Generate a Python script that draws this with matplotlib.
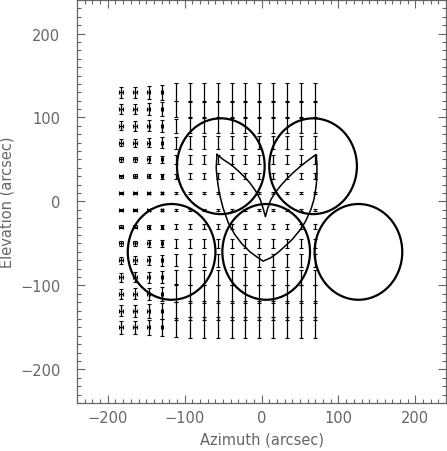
import numpy as np
import matplotlib
matplotlib.use("Agg")
import matplotlib.pyplot as plt
from matplotlib.patches import Circle

# grid of pointing offsets (arcsec)
az_grid = [-183, -165, -147, -129, -111, -93, -75, -57, -39, -21, -3, 15, 33, 51, 69]
el_grid = [130, 110, 90, 70, 50, 30, 10, -10, -30, -50, -70, -90, -110, -130, -150]

# half length of the elevation error bars, one row per elevation (top to bottom)
el_err = [
    [6.6, 6.8, 7.9, 9.1, 10.5] + [11.0] * 10,
    [6.0, 6.2, 7.2, 8.3, 9.5] + [10.0] * 10,
    [5.4, 5.6, 6.5, 7.5, 8.6] + [9.0] * 10,
    [4.5, 4.7, 5.4, 6.2, 7.1] + [7.5] * 10,
    [3.3, 3.4, 4.0, 4.6, 5.2] + [5.5] * 10,
    [2.1, 2.2, 2.5, 2.9, 3.3] + [3.5] * 10,
    [0.9, 0.9, 1.1, 1.2, 1.4] + [1.5] * 10,
    [0.9, 0.9, 1.1, 1.2, 1.4] + [1.5] * 10,
    [1.8, 1.9, 2.2, 2.5, 2.9] + [3.0] * 10,
    [3.0, 3.1, 3.6, 4.2, 4.8] + [5.0] * 10,
    [4.5, 4.7, 5.4, 6.2, 7.1] + [7.5] * 10,
    [5.4, 5.6, 6.5, 7.5, 8.6] + [9.0] * 10,
    [6.3, 6.5, 7.6, 8.7, 10.0] + [10.5] * 10,
    [6.9, 7.1, 8.3, 9.5, 10.9] + [11.5] * 10,
    [7.2, 7.4, 8.6, 10.0, 11.4] + [12.0] * 10,
]
# half length of the azimuth error bars, only the first columns show them
az_err = [2.8, 2.6, 1.8, 1.2]

# beam circles
beam_x = [-53, 67, -117, 6, 126]
beam_y = [42, 42, -60, -60, -60]
beam_r = 57

# outline of the two-lobed contour
lobe_x = [-58, -59, -58, -55, -50, -43, -35, -26, -15, -6, 2, 12, 21, 32, 40, 50, 57, 64, 68, 71,
          72, 72, 71, 62, 52, 42, 34, 25, 18, 12, 8, 5, 2, -2, -8, -15, -22, -31, -40, -50, -58]
lobe_y = [56, 40, 29, 10, -8, -26, -39, -50, -60, -66, -71, -67, -61, -52, -45, -34, -24, -10, 2, 18,
          30, 45, 56, 50, 43, 35, 28, 19, 11, 2, -8, -18, -8, 3, 13, 22, 29, 37, 44, 50, 56]

grey = '#666666'

fig = plt.figure(figsize=(4.47, 4.52), dpi=100)
ax = fig.add_axes([0.1723, 0.106, 0.8257, 0.892])

X, Y = np.meshgrid(az_grid, el_grid)
ax.errorbar(X.ravel(), Y.ravel(), yerr=np.array(el_err).ravel(),
            fmt='none', ecolor='black', elinewidth=0.9, capsize=1.1, capthick=0.8)

nx = len(az_err)
XE = np.tile(az_err, (len(el_grid), 1))
ax.errorbar(X[:, :nx].ravel(), Y[:, :nx].ravel(), xerr=XE.ravel(),
            fmt='none', ecolor='black', elinewidth=0.9, capsize=1.1, capthick=0.8)

for cx, cy in zip(beam_x, beam_y):
    ax.add_patch(Circle((cx, cy), beam_r, fill=False, ec='black', lw=1.6))

ax.plot(lobe_x, lobe_y, color='black', lw=1.1)

ax.set_xlim(-240, 240)
ax.set_ylim(-240, 240)
ax.set_xticks([-200, -100, 0, 100, 200])
ax.set_yticks([-200, -100, 0, 100, 200])
ax.set_xticks(np.arange(-240, 241, 10), minor=True)
ax.set_yticks(np.arange(-240, 241, 10), minor=True)
ax.tick_params(which='both', direction='in', top=True, right=True, colors=grey,
               labelsize=10.5, labelcolor=grey)
ax.tick_params(which='major', length=6, width=0.8)
ax.tick_params(which='minor', length=3, width=0.8)
ax.tick_params(axis='x', which='major', pad=5)
ax.tick_params(axis='y', which='major', pad=12)
for s in ax.spines.values():
    s.set_color(grey)
    s.set_linewidth(0.9)

ax.set_xlabel('Azimuth (arcsec)', fontsize=10.5, color=grey, labelpad=5)
ax.set_ylabel('Elevation (arcsec)', fontsize=10.5, color=grey, labelpad=4)

fig.savefig('out.png', dpi=100)
